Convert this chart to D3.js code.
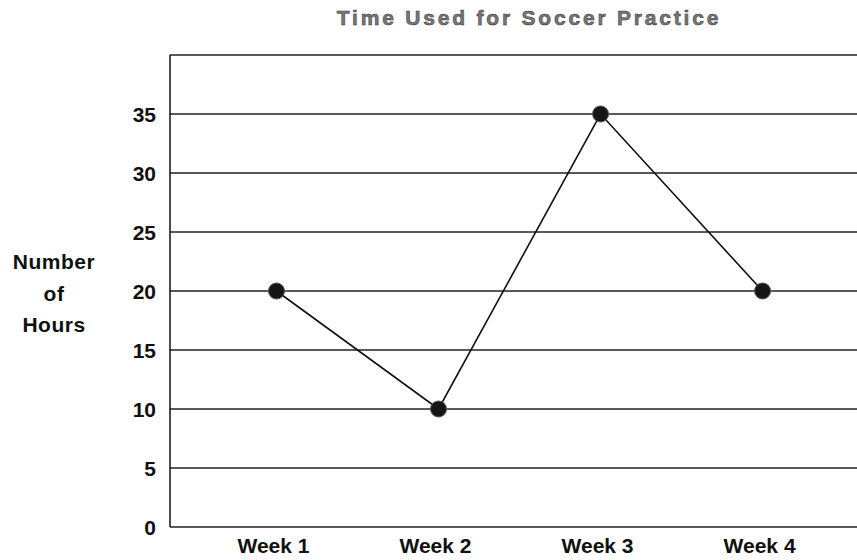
<!DOCTYPE html>
<html>
<head>
<meta charset="utf-8">
<script src="https://cdn.jsdelivr.net/npm/d3@7"></script>
<style>
  body { margin: 0; background: #fff; }
  svg text { font-family: "Liberation Sans", Arial, sans-serif; }
</style>
</head>
<body>
<div id="chart"></div>
<script>
// --- data ---
const weeks = ["Week 1", "Week 2", "Week 3", "Week 4"];
const hours = [20, 10, 35, 20];
const yTicks = [0, 5, 10, 15, 20, 25, 30, 35];
const yLabelLines = ["Number", "of", "Hours"];
const title = "Time Used for Soccer Practice";

// --- setup ---
const W = 857, H = 560;
const margin = { top: 55, right: 0, bottom: 33, left: 170 };
const width = W - margin.left - margin.right;
const height = H - margin.top - margin.bottom;

const svg = d3.select("#chart").append("svg")
  .attr("width", W)
  .attr("height", H);

const g = svg.append("g")
  .attr("transform", `translate(${margin.left},${margin.top})`);

// scales
const x = d3.scalePoint()
  .domain(weeks)
  .range([0, width])
  .padding(0.62)
  .align(0.53);

const y = d3.scaleLinear()
  .domain([0, 40])
  .range([height, 0]);

// gridlines (incl. top border at 40)
g.selectAll("line.grid")
  .data(yTicks.concat([40]))
  .enter().append("line")
  .attr("class", "grid")
  .attr("x1", 0)
  .attr("x2", width)
  .attr("y1", d => y(d))
  .attr("y2", d => y(d))
  .attr("stroke", "#222")
  .attr("stroke-width", 1.4);

// left axis line
g.append("line")
  .attr("x1", 0).attr("x2", 0)
  .attr("y1", y(40)).attr("y2", y(0))
  .attr("stroke", "#111")
  .attr("stroke-width", 1.5);

// y tick labels
g.selectAll("text.ytick")
  .data(yTicks)
  .enter().append("text")
  .attr("class", "ytick")
  .attr("x", -14)
  .attr("y", d => y(d))
  .attr("dy", "0.36em")
  .attr("text-anchor", "end")
  .attr("font-size", "21px")
  .attr("font-weight", "bold")
  .attr("fill", "#111")
  .text(d => d);

// x labels
g.selectAll("text.xtick")
  .data(weeks)
  .enter().append("text")
  .attr("class", "xtick")
  .attr("x", d => x(d) - 3)
  .attr("y", height + 26)
  .attr("text-anchor", "middle")
  .attr("font-size", "21px")
  .attr("font-weight", "bold")
  .attr("fill", "#111")
  .text(d => d);

// line
const line = d3.line()
  .x((d, i) => x(weeks[i]))
  .y(d => y(d));

g.append("path")
  .datum(hours)
  .attr("d", line)
  .attr("fill", "none")
  .attr("stroke", "#111")
  .attr("stroke-width", 1.6);

// dots
g.selectAll("circle.dot")
  .data(hours)
  .enter().append("circle")
  .attr("class", "dot")
  .attr("cx", (d, i) => x(weeks[i]))
  .attr("cy", d => y(d))
  .attr("r", 8)
  .attr("fill", "#161616")
  .attr("stroke", "#555")
  .attr("stroke-width", 1);

// y axis label
svg.selectAll("text.ylab")
  .data(yLabelLines)
  .enter().append("text")
  .attr("class", "ylab")
  .attr("x", 54)
  .attr("y", (d, i) => 269 + i * 31.5)
  .attr("text-anchor", "middle")
  .attr("font-size", "21px")
  .attr("font-weight", "bold")
  .attr("letter-spacing", "0.5px")
  .attr("fill", "#111")
  .text(d => d);

// title
svg.append("text")
  .attr("x", 529)
  .attr("y", 25)
  .attr("text-anchor", "middle")
  .attr("font-size", "21px")
  .attr("font-weight", "bold")
  .attr("letter-spacing", "2.8px")
  .attr("fill", "#777")
  .attr("stroke", "#333")
  .attr("stroke-width", 0.5)
  .text(title);
</script>
</body>
</html>
